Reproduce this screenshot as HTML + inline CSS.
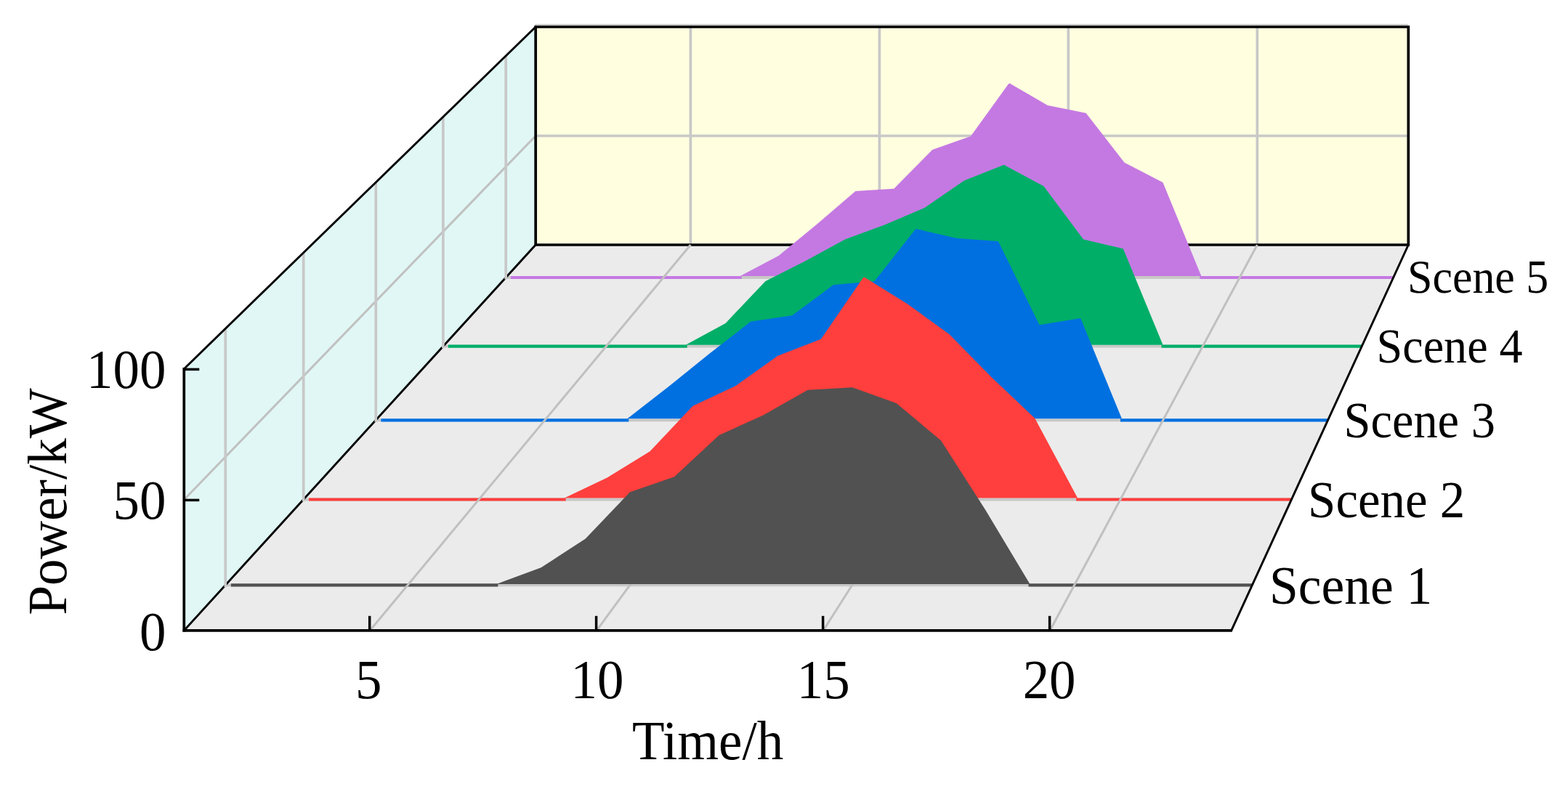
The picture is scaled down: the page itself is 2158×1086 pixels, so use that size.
<!DOCTYPE html>
<html lang="en"><head><meta charset="utf-8"><title>Power by scene</title>
<style>html,body{margin:0;padding:0;background:#fff}body{width:2158px;height:1086px;overflow:hidden}svg{display:block}</style>
</head><body>
<svg width="2158" height="1086" viewBox="0 0 2158 1086">
<rect width="2158" height="1086" fill="#fff"/>
<g id="walls">
<polygon points="737.2,337.0 1938.3,337.0 1938.3,37.0 737.2,37.0" fill="#ffffe0"/>
<polygon points="737.2,337.0 737.2,37.0 253.3,507.8 253.3,867.8" fill="#e0f7f5"/>
<polygon points="737.2,337.0 1938.3,337.0 1694.7,867.8 253.3,867.8" fill="#ebebeb"/>
</g>
<g id="grid">
<line x1="950.4" y1="337.0" x2="950.4" y2="37.0" stroke="#c8c8c8" stroke-width="3.7" />
<line x1="1210.4" y1="337.0" x2="1210.4" y2="37.0" stroke="#c8c8c8" stroke-width="3.7" />
<line x1="1470.3" y1="337.0" x2="1470.3" y2="37.0" stroke="#c8c8c8" stroke-width="3.7" />
<line x1="1730.3" y1="337.0" x2="1730.3" y2="37.0" stroke="#c8c8c8" stroke-width="3.7" />
<line x1="737.2" y1="187.0" x2="1938.3" y2="187.0" stroke="#c8c8c8" stroke-width="3.7" />
<line x1="737.2" y1="187.0" x2="253.3" y2="687.8" stroke="#c0c0c0" stroke-width="3.0" />
<line x1="310.3" y1="805.4" x2="1723.3" y2="805.4" stroke="#c8c8c8" stroke-width="3.8000000000000003" />
<line x1="417.7" y1="687.5" x2="1777.4" y2="687.5" stroke="#c8c8c8" stroke-width="3.8000000000000003" />
<line x1="517.3" y1="578.3" x2="1827.6" y2="578.3" stroke="#c8c8c8" stroke-width="3.8000000000000003" />
<line x1="609.9" y1="476.7" x2="1874.2" y2="476.7" stroke="#c8c8c8" stroke-width="3.8000000000000003" />
<line x1="696.2" y1="382.0" x2="1917.7" y2="382.0" stroke="#c8c8c8" stroke-width="3.8000000000000003" />
</g>
<line x1="736.2" y1="34.1" x2="1937.8" y2="34.1" stroke="#cfcfcf" stroke-width="2.2" />
<polygon points="737.2,337.0 737.2,37.0 1938.3,37.0 1938.3,337.0" fill="none" stroke="#000" stroke-width="3.7" stroke-linejoin="miter"/>
<g id="zero">
<line x1="317.9" y1="805.4" x2="685.4" y2="805.4" stroke="#515151" stroke-width="4.2" />
<line x1="1415.5" y1="805.4" x2="1723.3" y2="805.4" stroke="#515151" stroke-width="4.2" />
<line x1="425.1" y1="687.5" x2="778.7" y2="687.5" stroke="#ff3f3d" stroke-width="4.2" />
<line x1="1481.1" y1="687.5" x2="1777.4" y2="687.5" stroke="#ff3f3d" stroke-width="4.2" />
<line x1="524.4" y1="578.3" x2="865.3" y2="578.3" stroke="#0070e0" stroke-width="4.2" />
<line x1="1541.9" y1="578.3" x2="1827.6" y2="578.3" stroke="#0070e0" stroke-width="4.2" />
<line x1="616.8" y1="476.7" x2="945.7" y2="476.7" stroke="#00ae68" stroke-width="4.2" />
<line x1="1598.5" y1="476.7" x2="1874.2" y2="476.7" stroke="#00ae68" stroke-width="4.2" />
<line x1="703.0" y1="382.0" x2="1020.7" y2="382.0" stroke="#c479e2" stroke-width="4.2" />
<line x1="1651.3" y1="382.0" x2="1917.7" y2="382.0" stroke="#c479e2" stroke-width="4.2" />
</g>
<line x1="950.4" y1="337.0" x2="509.2" y2="867.8" stroke="#c0c0c0" stroke-width="3.0" />
<line x1="1210.4" y1="337.0" x2="821.1" y2="867.8" stroke="#c0c0c0" stroke-width="3.0" />
<line x1="1470.3" y1="337.0" x2="1133.1" y2="867.8" stroke="#c0c0c0" stroke-width="3.0" />
<line x1="1730.3" y1="337.0" x2="1445.1" y2="867.8" stroke="#c0c0c0" stroke-width="3.0" />
<g id="series">
<polygon points="1650.3,380.0 1653.3,380.0 1652.2,377.2 1652.2,377.2 1600.7,251.7 1600.5,251.3 1600.1,250.9 1599.7,250.7 1547.5,223.7 1495.1,156.2 1494.7,155.8 1494.3,155.6 1493.9,155.5 1441.8,144.9 1390.5,115.2 1390.0,115.0 1389.5,114.9 1389.0,115.0 1388.6,115.1 1388.2,115.4 1387.8,115.8 1336.0,187.5 1283.5,206.0 1283.1,206.2 1282.8,206.5 1230.3,259.7 1178.1,263.0 1177.4,263.1 1176.9,263.4 1124.5,308.4 1071.6,352.0 1033.8,372.0 1028.0,375.1 1025.8,376.2 1018.7,380.0 1026.8,380.0" fill="#c479e2"/>
<polygon points="1597.5,474.7 1600.5,474.7 1599.4,471.9 1597.2,466.7 1546.2,343.2 1546.0,342.8 1545.6,342.5 1545.2,342.2 1544.8,342.1 1491.1,329.4 1436.6,256.5 1436.3,256.1 1435.9,255.9 1382.4,227.3 1381.9,227.1 1381.3,227.1 1380.7,227.2 1327.1,248.5 1326.7,248.7 1272.1,286.2 1217.4,309.4 1162.8,329.6 1162.6,329.8 1107.9,359.6 1053.5,387.0 1053.0,387.5 998.5,444.9 958.4,466.7 950.6,470.9 943.7,474.7 951.6,474.7" fill="#00ae68"/>
<polygon points="1540.9,576.3 1543.9,576.3 1542.8,573.5 1542.8,573.5 1487.8,439.5 1487.5,439.0 1487.2,438.6 1486.7,438.4 1486.2,438.2 1485.6,438.3 1430.5,447.3 1374.3,333.0 1374.0,332.6 1373.6,332.3 1373.2,332.0 1372.7,331.9 1317.1,327.9 1261.5,315.2 1261.0,315.1 1260.4,315.2 1259.9,315.5 1259.5,315.9 1203.6,387.0 1147.5,392.1 1146.9,392.3 1146.4,392.5 1090.2,434.2 1033.9,442.4 1033.4,442.6 1033.0,442.8 976.7,486.6 976.7,486.6 920.0,532.2 867.9,572.7 863.3,576.3 869.1,576.3" fill="#0070e0"/>
<polygon points="1479.8,685.5 1483.1,685.5 1481.5,682.6 1478.8,677.5 1424.4,575.9 1424.0,575.4 1365.4,520.0 1306.6,460.2 1306.4,460.0 1247.7,417.5 1247.5,417.5 1190.4,382.0 1190.0,381.8 1189.5,381.7 1189.0,381.7 1188.5,381.9 1188.1,382.2 1187.7,382.6 1129.9,466.8 1071.2,489.4 1070.8,489.6 1012.2,531.3 953.6,558.8 953.0,559.3 894.5,621.3 835.6,657.5 793.5,677.5 784.7,681.7 776.7,685.5 785.6,685.5" fill="#ff3f3d"/>
<polygon points="693.8,800.1 683.4,804.0 694.5,804.0 1414.0,804.0 1417.5,804.0 1412.7,796.0 1412.7,796.0 1356.3,702.0 1356.3,702.0 1295.3,606.8 1294.9,606.3 1234.3,555.4 1233.7,555.1 1173.2,533.3 1172.8,533.2 1172.4,533.2 1112.1,536.7 1111.6,536.8 1111.2,536.9 1050.4,571.4 989.6,599.1 989.1,599.4 928.1,656.3 867.4,677.3 866.9,677.5 866.6,677.8 805.8,741.4 744.6,781.3 693.8,800.1" fill="#515151"/>
</g>
<g id="axes">
<line x1="737.2" y1="337.0" x2="253.3" y2="867.8" stroke="#000" stroke-width="2.9" stroke-linecap="round"/>
<line x1="310.3" y1="807.9" x2="310.3" y2="452.4" stroke="#c8c8c8" stroke-width="3.7" />
<line x1="417.7" y1="690.0" x2="417.7" y2="347.9" stroke="#c8c8c8" stroke-width="3.7" />
<line x1="517.3" y1="580.8" x2="517.3" y2="251.0" stroke="#c8c8c8" stroke-width="3.7" />
<line x1="609.9" y1="479.2" x2="609.9" y2="160.9" stroke="#c8c8c8" stroke-width="3.7" />
<line x1="696.2" y1="384.5" x2="696.2" y2="76.9" stroke="#c8c8c8" stroke-width="3.7" />
<line x1="737.2" y1="37.0" x2="253.3" y2="507.8" stroke="#000" stroke-width="2.9" stroke-linecap="round"/>
<line x1="1938.3" y1="337.0" x2="1694.7" y2="867.8" stroke="#000" stroke-width="2.9" stroke-linecap="round"/>
<line x1="253.3" y1="505.9" x2="253.3" y2="869.6" stroke="#000" stroke-width="3.7" />
<line x1="251.5" y1="867.8" x2="1695.7" y2="867.8" stroke="#000" stroke-width="3.7" />
<line x1="508.7" y1="867.8" x2="508.7" y2="847.8" stroke="#000" stroke-width="3.5" />
<line x1="820.6" y1="867.8" x2="820.6" y2="847.8" stroke="#000" stroke-width="3.5" />
<line x1="1132.6" y1="867.8" x2="1132.6" y2="847.8" stroke="#000" stroke-width="3.5" />
<line x1="1444.6" y1="867.8" x2="1444.6" y2="847.8" stroke="#000" stroke-width="3.5" />
<line x1="253.3" y1="688.4" x2="274.3" y2="688.4" stroke="#000" stroke-width="3.5" />
<line x1="253.3" y1="508.4" x2="274.3" y2="508.4" stroke="#000" stroke-width="3.5" />
</g>
<g id="labels" font-family="'Liberation Serif', serif" fill="#000">
<text transform="translate(507.2,960.8) scale(0.955,1)" font-size="76.4" text-anchor="middle">5</text>
<text transform="translate(822.0,960.8) scale(0.955,1)" font-size="76.4" text-anchor="middle">10</text>
<text transform="translate(1133.2,960.8) scale(0.955,1)" font-size="76.4" text-anchor="middle">15</text>
<text transform="translate(1444.1,960.8) scale(0.955,1)" font-size="76.4" text-anchor="middle">20</text>
<text transform="translate(228.4,894.7) scale(0.955,1)" font-size="76.4" text-anchor="end">0</text>
<text transform="translate(228.4,713.6) scale(0.955,1)" font-size="76.4" text-anchor="end">50</text>
<text transform="translate(228.4,533.9) scale(0.955,1)" font-size="76.4" text-anchor="end">100</text>
<text transform="translate(870.1,1044.7) scale(0.955,1)" font-size="76.4" text-anchor="start">Time/h</text>
<text transform="translate(91.0,846.5) rotate(-90) scale(0.955,1)" font-size="76.4" text-anchor="start">Power/kW</text>
<text transform="translate(1746.9,830.9) scale(0.955,1)" font-size="74.9" text-anchor="start">Scene 1</text>
<text transform="translate(1800.1,711.7) scale(0.955,1)" font-size="72.1" text-anchor="start">Scene 2</text>
<text transform="translate(1849.6,601.6) scale(0.955,1)" font-size="69.5" text-anchor="start">Scene 3</text>
<text transform="translate(1894.6,499.3) scale(0.955,1)" font-size="67.1" text-anchor="start">Scene 4</text>
<text transform="translate(1937.1,402.9) scale(0.955,1)" font-size="64.8" text-anchor="start">Scene 5</text>
</g>
</svg>
</body></html>
